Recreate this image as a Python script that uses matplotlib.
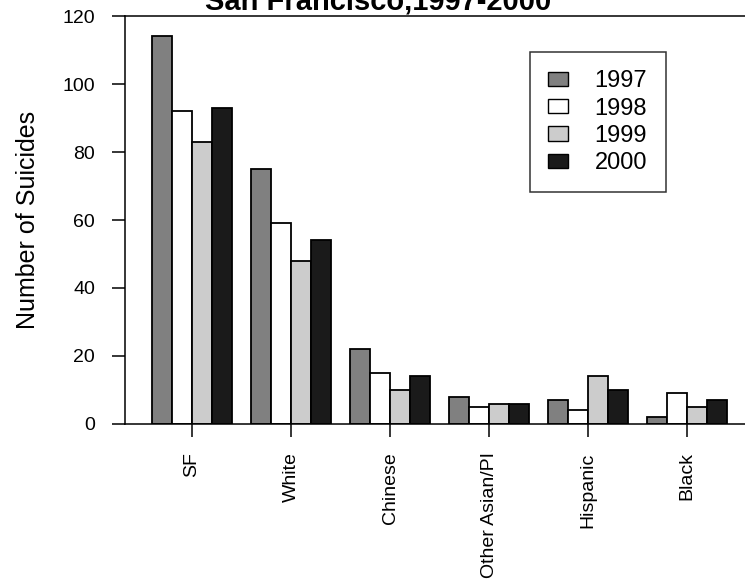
import matplotlib
matplotlib.use("Agg")
import matplotlib.pyplot as plt
import numpy as np

plt.rcParams['font.family'] = ['Liberation Sans', 'DejaVu Sans']

groups = ['SF', 'White', 'Chinese', 'Other Asian/PI', 'Hispanic', 'Black']
years = ['1997', '1998', '1999', '2000']
v1997 = [114, 75, 22, 8, 7, 2]
v1998 = [92, 59, 15, 5, 4, 9]
v1999 = [83, 48, 10, 6, 14, 5]
v2000 = [93, 54, 14, 6, 10, 7]
series = [v1997, v1998, v1999, v2000]
colors = ['#808080', '#ffffff', '#cccccc', '#1a1a1a']

fig = plt.figure(figsize=(7.45, 5.82), dpi=100)
ax = fig.add_axes([125 / 745, 158 / 582, 620 / 745, 408 / 582])

x = np.arange(len(groups))
width = 0.2
for i, (vals, col) in enumerate(zip(series, colors)):
    ax.bar(x + (i - 1.5) * width, vals, width, color=col,
           edgecolor='black', linewidth=1.3, label=years[i])

ax.set_xlim(-0.677, 5.586)
ax.set_ylim(0, 120)
ax.set_yticks(np.arange(0, 121, 20))
ax.set_xticks(x)
ax.set_xticklabels(groups, rotation=90, fontsize=14)

for s in ['left', 'top', 'bottom']:
    ax.spines[s].set_linewidth(1.1)
ax.spines['right'].set_visible(False)

ax.tick_params(axis='y', direction='out', length=9.5, width=1.1, pad=12, labelsize=14)
ax.tick_params(axis='x', direction='out', length=9.5, width=1.1, pad=11)

ax.set_ylabel('Number of Suicides', fontsize=18, labelpad=16)

fig.text(378 / 745, 1 - 9 / 582, 'San Francisco,1997-2000', ha='center',
         va='baseline', fontsize=21, fontweight='bold')

leg = ax.legend(loc='upper left', bbox_to_anchor=(530 / 745, 1 - 52 / 582),
                bbox_transform=fig.transFigure, borderaxespad=0, fontsize=17,
                frameon=True, fancybox=False, handlelength=0.85, handleheight=0.55,
                handletextpad=1.1, labelspacing=0.22, borderpad=0.78)
leg.get_frame().set_edgecolor('black')
leg.get_frame().set_linewidth(1.1)
for h in leg.legend_handles:
    h.set_linewidth(1.0)

plt.savefig('out.png', dpi=100)
